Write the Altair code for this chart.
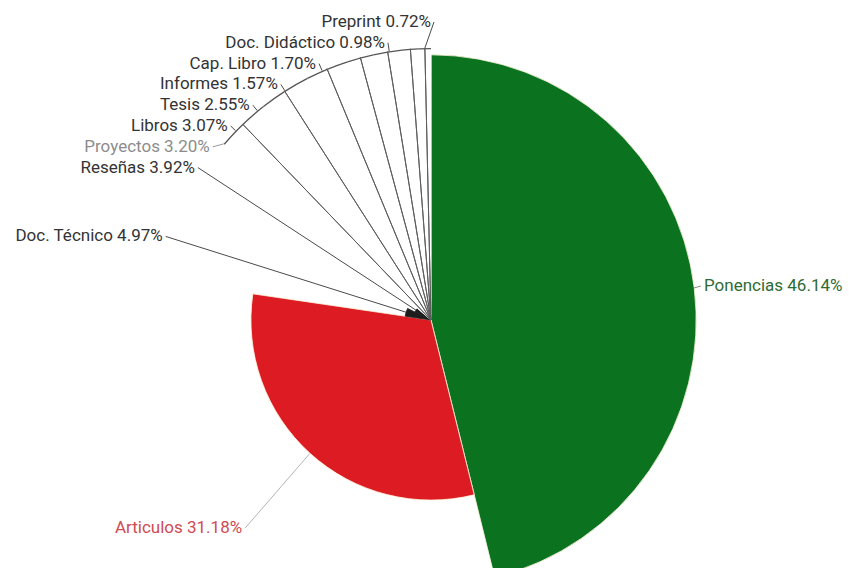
import math
import altair as alt
import pandas as pd

# ---------------- data ----------------
categories = ["Ponencias", "Articulos", "Doc. Técnico", "Reseñas", "Proyectos",
              "Libros", "Tesis", "Informes", "Cap. Libro", "Doc. Didáctico", "Preprint"]
shares = [46.14, 31.18, 4.97, 3.92, 3.20, 3.07, 2.55, 1.57, 1.70, 0.98, 0.72]
# relative radial extent of each slice (1 = outermost slice)
radial_extent = [0.975, 0.662, 0.096, 0.066, 1.0, 1.0, 1.0, 1.0, 1.0, 1.0, 1.0]

# ---------------- styles ----------------
slice_fill = {"Ponencias": "#0b7320", "Articulos": "#dc1c22",
              "Doc. Técnico": "#1d1d1d", "Reseñas": "#1d1d1d"}
slice_edge = {"Ponencias": "#fff6dd", "Articulos": "#fff6dd",
              "Doc. Técnico": "#1d1d1d", "Reseñas": "#1d1d1d"}
label_fill = {"Ponencias": "#2f6b34", "Articulos": "#cf4a52", "Proyectos": "#8c8c8c"}
leader_stroke = {"Ponencias": "#8a8a8a", "Articulos": "#b4b4b4", "Proyectos": "#9a9a9a"}
DEFAULT_FILL, DEFAULT_EDGE = "#ffffff", "#ffffff"
DEFAULT_LABEL, DEFAULT_LEADER = "#333333", "#4a4a4a"

# ---------------- layout ----------------
W, H = 837, 560
CX, CY = 423, 312          # pie centre inside the view
R_MAX = 272                # radius of the outermost slices
R_LABEL = 281              # label circle
RIGHT_PAD = 6              # right-hand labels sit a little closer
LINE_STEP = 20.8           # label line spacing
TOP_Y = 14                 # highest label position
OUTLINE_PX = 1.3
FONT = "Roboto"
FONT_SIZE = 17

# ---------------- geometry derived from the data ----------------
rows = []
acc = 0.0
for cat, s, e in zip(categories, shares, radial_extent):
    start = acc
    acc += s
    end = acc
    mid = (start + end) / 2
    a = mid / 100 * 2 * math.pi
    rows.append(dict(category=cat, share=s, extent=e, start=start, end=end, mid=mid, a=a,
                     fill=slice_fill.get(cat, DEFAULT_FILL),
                     edge=slice_edge.get(cat, DEFAULT_EDGE),
                     label=f"{cat} {s:.2f}%",
                     tcol=label_fill.get(cat, DEFAULT_LABEL),
                     lcol=leader_stroke.get(cat, DEFAULT_LEADER)))
df = pd.DataFrame(rows)
df["left"] = df["a"].map(lambda a: math.sin(a) < 0)
df["nat_y"] = df["a"].map(lambda a: CY - R_LABEL * math.cos(a))
df["inner"] = df["extent"] - OUTLINE_PX / R_MAX

# distribute labels on each side (cluster / mean placement)
ys = {}
for side in (True, False):
    part = df[df["left"] == side].sort_values("nat_y")
    clusters = []
    for idx, row in part.iterrows():
        clusters.append({"items": [(idx, row["nat_y"])]})
        while True:
            c = clusters[-1]
            vals = [ny - k * LINE_STEP for k, (_, ny) in enumerate(c["items"])]
            c["pos"] = max(TOP_Y, sum(vals) / len(vals))
            if len(clusters) > 1:
                p = clusters[-2]
                if p["pos"] + len(p["items"]) * LINE_STEP > c["pos"]:
                    p["items"] += c["items"]
                    clusters.pop()
                    continue
            break
    for c in clusters:
        for k, (idx, _) in enumerate(c["items"]):
            ys[idx] = c["pos"] + k * LINE_STEP
df["ly"] = pd.Series(ys)


def circle_x(y, left):
    d = R_LABEL ** 2 - (y - CY) ** 2
    off = math.sqrt(d) if d > 0 else 0.0
    return CX - off if left else CX + off - RIGHT_PAD


df["lx"] = [circle_x(y, l) for y, l in zip(df["ly"], df["left"])]

# angular range covered by the outer (white) slices, signed degrees
outer = df[df["extent"] >= 1.0]
arc_lo = min((s / 100 * 360) - 360 for s in outer["start"])
arc_hi = max((m / 100 * 360) - 360 for m in outer["mid"])

leaders = []
for _, r in df.iterrows():
    rad = r["extent"] * R_MAX
    if r["left"]:
        x1, y1 = r["lx"] + 3, r["ly"]
    else:
        x1, y1 = r["lx"] - 3, r["ly"]
    if r["extent"] >= 1.0:
        ang = math.degrees(math.atan2(x1 - CX, CY - y1))
        ang = min(max(ang, arc_lo), arc_hi)
        t = math.radians(ang)
    else:
        t = r["a"]
    x2 = CX + rad * math.sin(t)
    y2 = CY - rad * math.cos(t)
    leaders.append(dict(category=r["category"], x1=x1, y1=y1, x2=x2, y2=y2, lcol=r["lcol"]))
df_leaders = pd.DataFrame(leaders)

df_slices = df[["category", "start", "end", "mid", "extent", "inner", "fill", "edge"]]
df_outer = df_slices[df_slices["extent"] >= 1.0]
df_labels = df[["category", "label", "lx", "ly", "tcol", "left"]]

theta_scale = alt.Scale(domain=[0, 100])
radius_scale = alt.Scale(type="linear", domain=[0, 1], range=[0, R_MAX])

slices = alt.Chart(df_slices).mark_arc(strokeWidth=0.8).encode(
    theta=alt.Theta("start:Q", scale=theta_scale, stack=None),
    theta2=alt.Theta2("end:Q"),
    radius=alt.Radius("extent:Q", scale=radius_scale),
    fill=alt.Fill("fill:N", scale=None),
    stroke=alt.Stroke("edge:N", scale=None),
    x=alt.value(CX), y=alt.value(CY),
)

outline = alt.Chart(df_outer).mark_arc(fill="#555555").encode(
    theta=alt.Theta("start:Q", scale=theta_scale, stack=None),
    theta2=alt.Theta2("end:Q"),
    radius=alt.Radius("extent:Q", scale=radius_scale),
    radius2=alt.Radius2("inner:Q"),
    x=alt.value(CX), y=alt.value(CY),
)

radial = alt.Chart(df_outer).mark_arc(fillOpacity=0, stroke="#5e5e5e", strokeWidth=1).encode(
    theta=alt.Theta("mid:Q", scale=theta_scale, stack=None),
    theta2=alt.Theta2("mid:Q"),
    radius=alt.Radius("extent:Q", scale=radius_scale),
    radius2=alt.value(0),
    x=alt.value(CX), y=alt.value(CY),
)

leader_lines = alt.Chart(df_leaders).mark_rule(strokeWidth=1).encode(
    x=alt.X("x1:Q", scale=None, axis=None),
    y=alt.Y("y1:Q", scale=None, axis=None),
    x2=alt.X2("x2:Q"),
    y2=alt.Y2("y2:Q"),
    color=alt.Color("lcol:N", scale=None),
)

labels_left = alt.Chart(df_labels[df_labels["left"]]).mark_text(
    align="right", baseline="middle", font=FONT, fontSize=FONT_SIZE).encode(
    x=alt.X("lx:Q", scale=None, axis=None),
    y=alt.Y("ly:Q", scale=None, axis=None),
    text="label:N",
    color=alt.Color("tcol:N", scale=None),
)

labels_right = alt.Chart(df_labels[~df_labels["left"]]).mark_text(
    align="left", baseline="middle", font=FONT, fontSize=FONT_SIZE).encode(
    x=alt.X("lx:Q", scale=None, axis=None),
    y=alt.Y("ly:Q", scale=None, axis=None),
    text="label:N",
    color=alt.Color("tcol:N", scale=None),
)

chart = alt.layer(slices, outline, radial, leader_lines, labels_left, labels_right).properties(
    width=W, height=H, padding=0, autosize=alt.AutoSizeParams(type="none"),
    background="#ffffff",
).configure_view(strokeWidth=0)

chart.save("out.html", embed_options={"renderer": "svg", "actions": False})
